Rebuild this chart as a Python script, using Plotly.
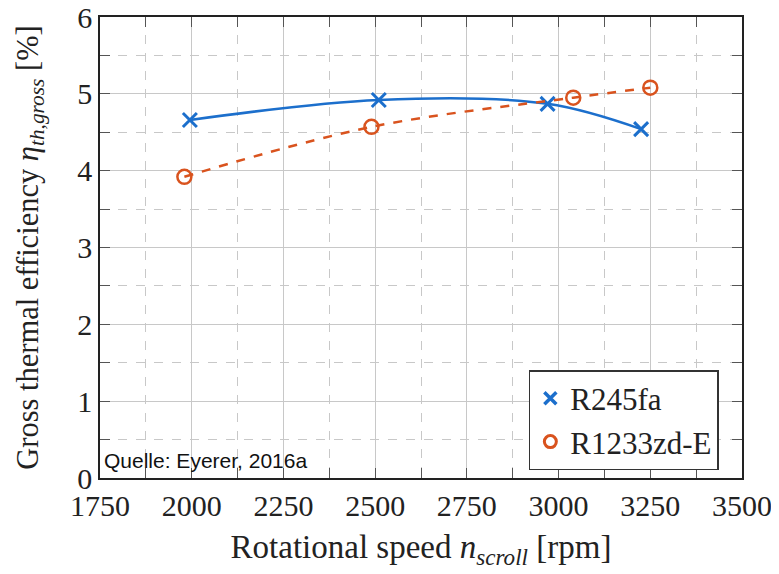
import plotly.graph_objects as go

speed_r245fa = [1995, 2510, 2970, 3225]
eff_r245fa = [4.66, 4.92, 4.87, 4.54]
speed_r1233 = [1980, 2490, 3040, 3250]
eff_r1233 = [3.92, 4.57, 4.95, 5.08]
x_ticks = [1750, 2000, 2250, 2500, 2750, 3000, 3250, 3500]
y_ticks = [0, 1, 2, 3, 4, 5, 6]

blue = "#1C6FCC"
orange = "#D9531E"
serif = "Liberation Serif, Times New Roman, serif"

fig = go.Figure()
fig.add_trace(go.Scatter(
    x=speed_r245fa, y=eff_r245fa, name="R245fa", mode="lines+markers", showlegend=False,
    line=dict(color=blue, width=2.5, shape="spline", smoothing=1.0),
    marker=dict(symbol="x-thin", size=14, line=dict(color=blue, width=3), color=blue),
))
fig.add_trace(go.Scatter(
    x=speed_r1233, y=eff_r1233, name="R1233zd-E", mode="lines+markers", showlegend=False,
    line=dict(color=orange, width=2.5, dash="dash", shape="spline", smoothing=1.0),
    marker=dict(symbol="circle-open", size=14, line=dict(color=orange, width=2.5), color=orange),
))
# legend entries (marker only)
fig.add_trace(go.Scatter(
    x=[None], y=[None], name="R245fa", mode="markers",
    marker=dict(symbol="x-thin", size=12, line=dict(color=blue, width=3.5), color=blue),
))
fig.add_trace(go.Scatter(
    x=[None], y=[None], name="R1233zd-E", mode="markers",
    marker=dict(symbol="circle-open", size=12, line=dict(color=orange, width=3), color=orange),
))

axis_common = dict(
    showline=True, linecolor="#222", linewidth=1.5, mirror="allticks",
    ticks="inside", ticklen=10, tickcolor="#555", tickwidth=1,
    showgrid=True, gridcolor="#c8c8c8", gridwidth=1.3, zeroline=False,
    tickfont=dict(family=serif, size=30, color="#222"), automargin=False,
    ticklabeloverflow="allow",
)

fig.update_xaxes(
    range=[1750, 3500], tickvals=x_ticks,
    minor=dict(dtick=125, ticks="inside", ticklen=10, tickcolor="#555",
               showgrid=True, gridcolor="#c8c8c8", griddash="dash", gridwidth=1.3),
    title=dict(text="Rotational speed <i>n</i><sub><i>scroll</i></sub> [rpm]",
               font=dict(family=serif, size=33, color="#222"), standoff=14),
    **axis_common,
)
fig.update_yaxes(
    range=[0, 6], tickvals=y_ticks,
    minor=dict(dtick=0.5, ticks="inside", ticklen=10, tickcolor="#555",
               showgrid=True, gridcolor="#c8c8c8", griddash="dash", gridwidth=1.3),
    title=dict(text="Gross thermal efficiency <i>η</i><sub><i>th,gross</i></sub> [%]",
               font=dict(family=serif, size=30.5, color="#222"), standoff=30),
    **axis_common,
)

fig.add_annotation(
    x=0, y=0, xref="paper", yref="paper", xanchor="left", yanchor="bottom",
    xshift=2, yshift=4, text="Quelle: Eyerer, 2016a", showarrow=False,
    font=dict(family="Liberation Sans, Arial, sans-serif", size=21, color="#111"),
)

fig.update_layout(
    width=779, height=574,
    margin=dict(l=92, r=45, t=9, b=104),
    plot_bgcolor="white", paper_bgcolor="white",
    legend=dict(x=0.668, y=0.234, xanchor="left", yanchor="top",
                bgcolor="white", bordercolor="#333", borderwidth=1.5,
                font=dict(family=serif, size=31, color="#222"),
                itemwidth=30, tracegroupgap=0),
    showlegend=True,
)

fig.write_html("out.html")
